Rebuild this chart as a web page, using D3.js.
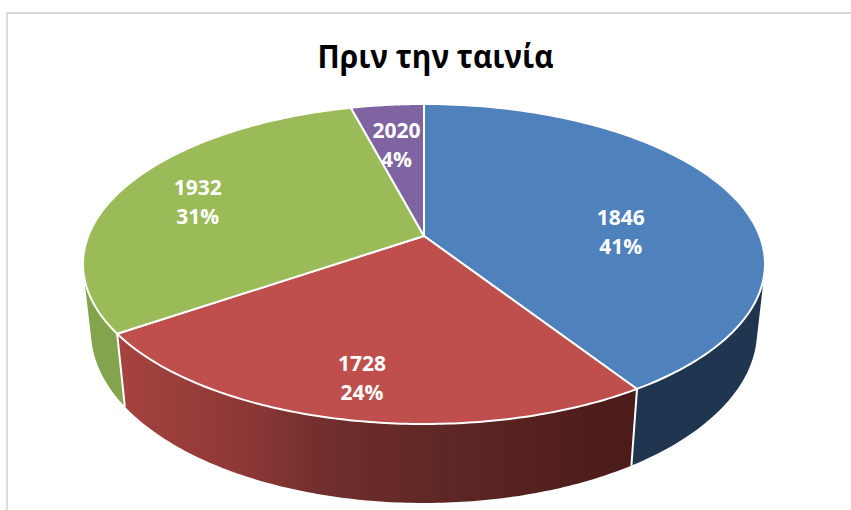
<!DOCTYPE html>
<html><head><meta charset="utf-8">
<script src="https://cdn.jsdelivr.net/npm/d3@7"></script>
<style>html,body{margin:0;background:#fff;overflow:hidden}svg{display:block}</style>
</head><body><svg id="c" width="851" height="510"></svg>
<script>
const title = "Πριν την ταινία";
const categories = ["1846", "1728", "1932", "2020"];
const shares = [40.9, 24.49, 30.51, 4.1];
const topColors = ["#4F81BD", "#BE4F4C", "#9BBB59", "#8064A2"];

// layout of the tilted pie: a plane seen in perspective
const cx = 424, cy = 236, persp = -0.175, scaleX = 335.7, scaleY = 155.1;
const baseW = 1.023, baseScaleY = 159.3, baseShift = 67.1;
const labelNudge = [[9, 22], [-18, 41], [-44, -2], [-4, -7]];
const lineGap = 29;

const project = (a, r, floor) => {
  const u = r * Math.sin(a), v = -r * Math.cos(a);
  const w = (floor ? baseW : 1) + persp * v;
  return [cx + scaleX * u / w,
          cy + (floor ? baseScaleY * v + baseShift : scaleY * v) / w];
};
const arcPts = (a0, a1, floor) => d3.range(0, 121).map(i => project(a0 + (a1 - a0) * i / 120, 1, floor));
const line = d3.line();

const svg = d3.select("#c");
const defs = svg.append("defs");
const grad = (id, stops) => {
  const g = defs.append("linearGradient").attr("id", id).attr("x1", 0).attr("x2", 1).attr("y1", 0).attr("y2", 0);
  stops.forEach(([o, c]) => g.append("stop").attr("offset", o).attr("stop-color", c));
  return `url(#${id})`;
};
const wallFills = [
  "#1F3550",
  grad("redWall", [[0, "#A5433F"], [0.27, "#8A3735"], [0.39, "#722F2D"], [0.65, "#5C2624"], [1, "#4A1B19"]]),
  "#84A34D",
  "#5F4A79"
];

// chart frame
const frame = svg.append("g").attr("stroke", "#D9D9D9").attr("stroke-width", 1.8).attr("fill", "none");
frame.append("path").attr("d", line([[7, 510], [7, 13], [851, 13]]));

svg.append("text").attr("x", 435.5).attr("y", 68).attr("text-anchor", "middle")
  .attr("font-family", "'Open Sans'").attr("font-weight", 700).attr("font-size", 32)
  .attr("textLength", 236).attr("lengthAdjust", "spacingAndGlyphs")
  .attr("fill", "#000").text(title);

const slices = d3.pie().sort(null).value(d => d)(shares);

// outer walls, back to front; each strip piece is wound the same way so the fold at the silhouette stays filled
const quadPath = (a0, a1) => {
  const t = arcPts(a0, a1, false), b = arcPts(a0, a1, true);
  return d3.range(t.length - 1).map(i => {
    const q = [t[i], t[i + 1], b[i + 1], b[i]];
    return line(d3.polygonArea(q) < 0 ? q.reverse() : q) + "Z";
  }).join("");
};
const walls = svg.append("g").attr("stroke", "none");
[3, 0, 2, 1].forEach(i => {
  const s = slices[i];
  walls.append("path").attr("d", quadPath(s.startAngle, s.endAngle)).attr("fill", wallFills[i]);
});
// white seams where the visible walls meet
const seams = svg.append("g").attr("stroke", "#fff").attr("stroke-width", 2);
[slices[0].endAngle, slices[1].endAngle].forEach(a => {
  seams.append("path").attr("d", line([project(a, 1, false), project(a, 1, true)]));
});

// top faces
const tops = svg.append("g").attr("stroke", "#fff").attr("stroke-width", 2).attr("stroke-linejoin", "round");
slices.forEach((s, i) => {
  const pts = [project(0, 0, false)].concat(arcPts(s.startAngle, s.endAngle, false));
  tops.append("path").attr("d", line(pts) + "Z").attr("fill", topColors[i]);
});

// labels
const labels = svg.append("g").attr("fill", "#fff").attr("text-anchor", "middle")
  .attr("font-family", "'Open Sans'").attr("font-weight", 700).attr("font-size", 21);
slices.forEach((s, i) => {
  const [x0, y0] = project((s.startAngle + s.endAngle) / 2, 0.6, false);
  const x = x0 + labelNudge[i][0], y = y0 + labelNudge[i][1];
  labels.append("text").attr("x", x).attr("y", y - lineGap / 2 + 7).text(categories[i]);
  labels.append("text").attr("x", x).attr("y", y + lineGap / 2 + 7).text(Math.round(s.data) + "%");
});
</script></body></html>
